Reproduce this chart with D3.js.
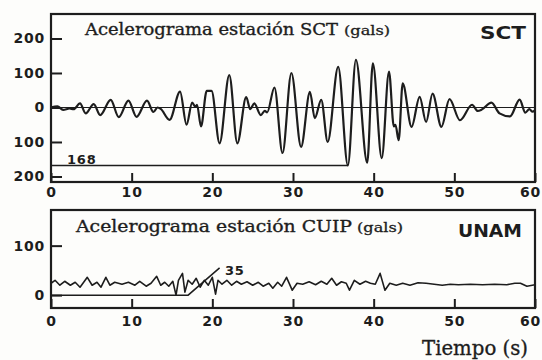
<!DOCTYPE html>
<html>
<head>
<meta charset="utf-8">
<script src="https://cdn.jsdelivr.net/npm/d3@7"></script>
<style>
  html, body { margin: 0; padding: 0; background: #fdfdfb; }
  svg { display: block; }
</style>
</head>
<body>
<svg id="chart" width="542" height="360"></svg>
<script>
// Time axis (s)
const timeTicks = [0, 10, 20, 30, 40, 50, 60];

// SCT station accelerogram: extrema (t in s, gals)
const sctTime = [0, 0.8, 1.5, 2.3, 2.8, 3.6, 4.3, 5.3, 6.1, 7.4, 8.4, 9.6, 10.6, 11.9, 12.7, 13.2, 13.6,
  14.7, 16.0, 16.8, 17.5, 17.9, 18.1, 18.6, 19.3, 19.9, 20.9, 22.1, 23.1, 24.2, 24.7, 25.2, 26.0, 26.5,
  26.8, 27.7, 28.7, 29.8, 31.0, 32.1, 32.7, 33.5, 34.3, 35.6, 36.8, 37.8, 39.2, 39.9, 41.0, 41.9, 42.5,
  42.7, 43.1, 43.6, 44.7, 45.7, 46.5, 47.3, 48.4, 49.4, 50.7, 52.2, 52.9, 53.4, 54.6, 55.6, 56.9, 58.1,
  58.8, 59.3, 59.7, 60];
const sctAccel = [0, 3, -7, -3, -5, 12, -17, 10, -22, 22, -28, 20, -27, 20, -13, 0, -4,
  -36, 46, -50, 14, 2, 8, -55, 48, 48, -104, 94, -104, 30, -5, 12, -22, -10,
  -14, 58, -132, 100, -114, 45, -31, 22, -100, 118, -168, 138, -160, 128, -147, 104, -55,
  -50, -95, 70, -56, 31, -42, 40, -56, 24, -37, 8, -10, -6, 14, -17, -26, 23,
  -15, -5, -12, -8];
const sctTicks = [200, 100, 0, -100, -200];
const sctPeak = 168;

// CUIP (UNAM) station accelerogram (t in s, gals)
const cuipTime = [0, 0.5, 1.1, 1.7, 2.4, 3.0, 3.6, 4.5, 5.1, 5.7, 6.2, 6.8, 7.3, 7.9, 8.8, 9.6, 10.4,
  11.0, 11.8, 12.4, 13.1, 13.6, 14.1, 14.6, 15.1, 15.5, 15.8, 16.3, 16.6, 17.0, 17.5, 18.0, 18.5, 19.0,
  19.5, 20.0, 20.4, 20.7, 21.2, 21.8, 22.4, 23.0, 23.6, 24.3, 25.0, 25.7, 26.3, 27.0, 27.5, 28.1, 28.6,
  29.2, 29.9, 30.5, 31.2, 32.0, 32.8, 33.5, 34.2, 34.8, 35.4, 36.0, 36.6, 37.0, 37.6, 38.3, 39.0, 39.6,
  40.2, 40.8, 41.4, 42.0, 42.8, 43.6, 44.5, 45.5, 46.5, 47.5, 48.5, 49.5, 50.5, 52.0, 53.5, 55.0, 56.5,
  57.5, 58.2, 59.0, 60];
const cuipAccel = [24, 30, 20, 28, 20, 26, 16, 36, 20, 26, 16, 36, 20, 26, 22, 26, 20,
  28, 18, 24, 38, 20, 26, 18, 28, 0, 30, 44, 6, 30, 22, 34, 16, 30,
  20, 36, 2, 30, 22, 30, 20, 28, 22, 27, 20, 26, 18, 24, 14, 26, 18,
  36, 10, 24, 22, 27, 21, 28, 22, 34, 20, 27, 24, 10, 30, 22, 28, 24,
  22, 44, 10, 24, 20, 24, 20, 25, 24, 22, 20, 22, 21, 22, 21, 22, 21,
  24, 24, 18, 21];
const cuipTicks = [100, 0];
const cuipPeak = 35;

const ink = "#1d1d1d";
const svg = d3.select("#chart");

const x = d3.scaleLinear().domain([0, 60]).range([51, 535]);

const panels = [
  {
    key: "sct", top: 14, bottom: 182, domain: [-216, 271],
    time: sctTime, accel: sctAccel, ticks: sctTicks, curve: d3.curveMonotoneX,
    title: "Acelerograma estación SCT", titleX: 85, titleLen: 253, titleY: 35,
    galsX: 344, station: "SCT", stationX: 480, stationLen: 46, stationY: 39,
    xLabelPad: 5
  },
  {
    key: "cuip", top: 210, bottom: 308, domain: [-26, 172],
    time: cuipTime, accel: cuipAccel, ticks: cuipTicks, curve: d3.curveLinear,
    title: "Acelerograma estación CUIP", titleX: 76, titleLen: 276, titleY: 232,
    galsX: 357, station: "UNAM", stationX: 458, stationLen: 64, stationY: 237,
    xLabelPad: 8
  }
];

panels.forEach(p => {
  const y = d3.scaleLinear().domain(p.domain).range([p.bottom, p.top]);
  p.y = y;
  const g = svg.append("g");

  g.append("clipPath").attr("id", "clip-" + p.key)
    .append("rect")
    .attr("x", x(0)).attr("y", p.top)
    .attr("width", x(60) - x(0)).attr("height", p.bottom - p.top);

  // zero reference line (SCT panel only)
  if (p.key === "sct") {
    g.append("line")
      .attr("x1", x(0)).attr("x2", x(60))
      .attr("y1", y(0)).attr("y2", y(0))
      .attr("stroke", ink).attr("stroke-width", 1.1);
  }

  // trace
  const pts = p.time.map((t, i) => [t, p.accel[i]]);
  g.append("path")
    .datum(pts)
    .attr("clip-path", `url(#clip-${p.key})`)
    .attr("fill", "none")
    .attr("stroke", ink)
    .attr("stroke-width", p.key === "sct" ? 2.2 : 1.6)
    .attr("stroke-linejoin", "round")
    .attr("d", d3.line().x(d => x(d[0])).y(d => y(d[1])).curve(p.curve));

  // axes with inward ticks
  const xAxis = d3.axisBottom(x).tickValues(timeTicks).tickSize(-9).tickPadding(p.xLabelPad)
    .tickFormat(d3.format("d"));
  const gx = g.append("g").attr("transform", `translate(0,${p.bottom})`).call(xAxis);
  // keep the last label inside the page edge
  gx.selectAll(".tick text").filter(d => d === 60).attr("dx", -5);

  const yAxis = d3.axisLeft(y).tickValues(p.ticks).tickSize(-11).tickPadding(6)
    .tickFormat(d => String(Math.abs(d)));
  const gy = g.append("g").attr("transform", `translate(${x(0)},0)`).call(yAxis);

  [gx, gy].forEach(a => {
    a.select(".domain").remove();
    a.selectAll(".tick line").attr("stroke", ink).attr("stroke-width", 2);
    a.selectAll(".tick text")
      .attr("fill", ink)
      .style("font-family", "'DejaVu Sans', sans-serif")
      .style("font-weight", "bold")
      .style("font-size", "14px")
      .style("letter-spacing", "0.8px");
  });

  // frame
  g.append("rect")
    .attr("x", x(0)).attr("y", p.top)
    .attr("width", x(60) - x(0)).attr("height", p.bottom - p.top)
    .attr("fill", "none").attr("stroke", ink).attr("stroke-width", 2.2);

  // titles
  g.append("text")
    .attr("x", p.titleX).attr("y", p.titleY)
    .attr("textLength", p.titleLen).attr("lengthAdjust", "spacingAndGlyphs")
    .attr("fill", ink).attr("stroke", ink).attr("stroke-width", 0.35)
    .style("font-family", "'DejaVu Serif', serif")
    .style("font-size", "16px")
    .text(p.title);
  g.append("text")
    .attr("x", p.galsX).attr("y", p.titleY)
    .attr("textLength", 46).attr("lengthAdjust", "spacingAndGlyphs")
    .attr("fill", ink).attr("stroke", ink).attr("stroke-width", 0.3)
    .style("font-family", "'DejaVu Serif', serif")
    .style("font-size", "13px")
    .text("(gals)");
  g.append("text")
    .attr("x", p.stationX).attr("y", p.stationY)
    .attr("textLength", p.stationLen).attr("lengthAdjust", "spacingAndGlyphs")
    .attr("fill", ink)
    .style("font-family", "'DejaVu Sans', sans-serif")
    .style("font-weight", "bold")
    .style("font-size", "18px")
    .text(p.station);
});

// peak annotations
const sct = panels[0], cuip = panels[1];
const peakT = sctTime[sctAccel.indexOf(-sctPeak)];
svg.append("path")
  .attr("d", d3.line()([[x(0), sct.y(-sctPeak)], [x(peakT), sct.y(-sctPeak)]]))
  .attr("fill", "none").attr("stroke", ink).attr("stroke-width", 1.6);
svg.append("text")
  .attr("x", 67).attr("y", sct.y(-sctPeak) - 1.5)
  .attr("fill", ink)
  .style("font-family", "'DejaVu Sans', sans-serif")
  .style("font-weight", "bold").style("font-size", "13px")
  .style("letter-spacing", "0.8px")
  .text(sctPeak);

svg.append("path")
  .attr("d", d3.line()([[x(0), cuip.y(0)], [x(17.0), cuip.y(0)], [x(20.9), cuip.y(55)]]))
  .attr("fill", "none").attr("stroke", ink).attr("stroke-width", 1.5);
svg.append("text")
  .attr("x", 225).attr("y", 275)
  .attr("fill", ink)
  .style("font-family", "'DejaVu Sans', sans-serif")
  .style("font-weight", "bold").style("font-size", "13px")
  .style("letter-spacing", "0.8px")
  .text(cuipPeak);

// time axis title
svg.append("text")
  .attr("x", 422).attr("y", 355)
  .attr("textLength", 106).attr("lengthAdjust", "spacingAndGlyphs")
  .attr("fill", ink).attr("stroke", ink).attr("stroke-width", 0.35)
  .style("font-family", "'DejaVu Serif', serif")
  .style("font-size", "21px")
  .text("Tiempo (s)");
</script>
</body>
</html>
